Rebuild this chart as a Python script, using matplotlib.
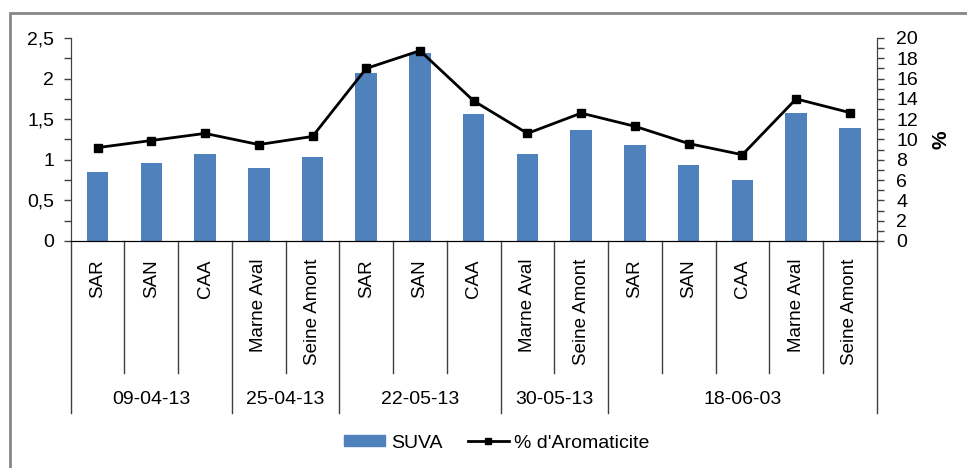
import matplotlib
matplotlib.use("Agg")
import matplotlib.pyplot as plt
from matplotlib.ticker import MultipleLocator, FuncFormatter
from matplotlib.patches import Rectangle
from matplotlib.lines import Line2D
import matplotlib.transforms as mtransforms

# data
sites = ["SAR", "SAN", "CAA", "Marne Aval", "Seine Amont",
         "SAR", "SAN", "CAA", "Marne Aval", "Seine Amont",
         "SAR", "SAN", "CAA", "Marne Aval", "Seine Amont"]
dates = ["09-04-13", "25-04-13", "22-05-13", "30-05-13", "18-06-03"]
group_sizes = [3, 2, 3, 2, 5]
suva = [0.85, 0.96, 1.075, 0.90, 1.03,
        2.065, 2.315, 1.56, 1.07, 1.37,
        1.18, 0.93, 0.75, 1.58, 1.39]
aromaticite = [9.2, 9.9, 10.6, 9.5, 10.3,
               17.0, 18.75, 13.8, 10.6, 12.6,
               11.3, 9.6, 8.5, 14.0, 12.65]

bar_color = "#4F81BD"
plt.rcParams["font.family"] = ["Liberation Sans", "DejaVu Sans"]

fig = plt.figure(figsize=(9.67, 4.68), dpi=100)
ax = fig.add_axes([70.7 / 967, 1 - 241 / 468, (876.7 - 70.7) / 967, 203 / 468])
ax2 = ax.twinx()

# chart area border (grey frame, Excel style)
fig.patches.append(Rectangle((10 / 967, -0.1), 1.2, 1 - 13 / 468 + 0.1,
                             transform=fig.transFigure, fill=False,
                             edgecolor="#868686", linewidth=2))

x = list(range(len(sites)))
ax.bar(x, suva, width=0.4, color=bar_color, zorder=2)
ax2.plot(x, aromaticite, color="black", linewidth=2, marker="s",
         markersize=5.5, zorder=3)

ax.set_xlim(-0.5, len(sites) - 0.5)
ax.set_ylim(0, 2.5)
ax2.set_ylim(0, 20)

ax.yaxis.set_major_locator(MultipleLocator(0.5))
ax.yaxis.set_minor_locator(MultipleLocator(0.25))
ax.yaxis.set_major_formatter(FuncFormatter(lambda v, p: ("%g" % v).replace(".", ",")))
ax2.yaxis.set_major_locator(MultipleLocator(2))
ax2.yaxis.set_minor_locator(MultipleLocator(1))

ax.tick_params(axis="y", which="both", length=5, width=1, direction="out",
               labelsize=14, pad=7, color="#404040")
ax2.tick_params(axis="y", which="both", length=5, width=1, direction="out",
                labelsize=14, pad=9, color="#404040")
ax.set_xticks([])
ax2.set_xticks([])

for a in (ax, ax2):
    a.spines["top"].set_visible(False)
    a.spines["left"].set_color("#404040")
    a.spines["right"].set_color("#404040")
    a.spines["bottom"].set_color("black")
ax2.set_ylabel("%", fontsize=15, fontweight="bold", labelpad=10)

# multi-level category axis
trans = mtransforms.blended_transform_factory(ax.transData, ax.transAxes)
inner_bottom = (241 - 373) / 203
outer_bottom = (241 - 413) / 203
boundaries = [0]
for g in group_sizes:
    boundaries.append(boundaries[-1] + g)
for i in range(len(sites) + 1):
    yb = outer_bottom if i in boundaries else inner_bottom
    ax.plot([i - 0.5, i - 0.5], [0, yb], transform=trans, color="#404040",
            linewidth=1, clip_on=False)
for i, s in enumerate(sites):
    ax.text(i, (241 - 259) / 203, s, transform=trans, rotation=90,
            ha="center", va="top", fontsize=13.5)
for k, d in enumerate(dates):
    c = (boundaries[k] + boundaries[k + 1] - 1) / 2
    ax.text(c, (241 - 400) / 203, d, transform=trans, ha="center",
            va="center", fontsize=14)

handles = [Rectangle((0, 0), 1, 1, color=bar_color),
           Line2D([], [], color="black", linewidth=2, marker="s", markersize=4)]
fig.legend(handles, ["SUVA", "% d'Aromaticite"], loc="center",
           bbox_to_anchor=(497 / 967, 1 - 443 / 468), ncol=2, frameon=False,
           fontsize=14, handlelength=2.1, handleheight=0.55, columnspacing=1.3,
           handletextpad=0.3)

fig.savefig("out.png", dpi=100)
